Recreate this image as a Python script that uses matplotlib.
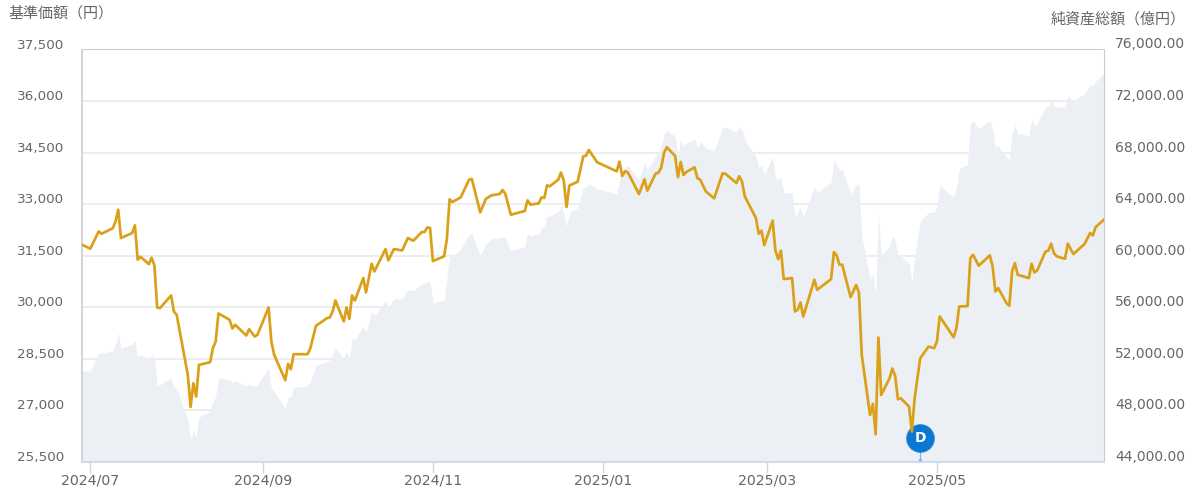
import numpy as np
import pandas as pd
import matplotlib
matplotlib.use("Agg")
import matplotlib.pyplot as plt
from matplotlib.transforms import ScaledTranslation

plt.rcParams['font.family'] = ['DejaVu Sans', 'Noto Sans CJK JP']

dates = [
    '2024-06-28',
    '2024-07-01', '2024-07-04', '2024-07-05', '2024-07-09', '2024-07-10', '2024-07-11', '2024-07-12', '2024-07-16', '2024-07-17',
    '2024-07-18', '2024-07-19', '2024-07-22', '2024-07-23', '2024-07-24', '2024-07-25', '2024-07-26', '2024-07-30', '2024-07-31',
    '2024-08-01', '2024-08-05', '2024-08-06', '2024-08-07', '2024-08-08', '2024-08-09', '2024-08-13', '2024-08-14', '2024-08-15',
    '2024-08-16', '2024-08-20', '2024-08-21', '2024-08-22', '2024-08-26', '2024-08-27', '2024-08-29', '2024-08-30',
    '2024-09-03', '2024-09-04', '2024-09-05', '2024-09-09', '2024-09-10', '2024-09-11', '2024-09-12', '2024-09-17', '2024-09-18',
    '2024-09-20', '2024-09-24', '2024-09-25', '2024-09-26', '2024-09-27', '2024-09-30',
    '2024-10-01', '2024-10-02', '2024-10-03', '2024-10-04', '2024-10-07', '2024-10-08', '2024-10-10', '2024-10-11', '2024-10-15',
    '2024-10-16', '2024-10-18', '2024-10-21', '2024-10-23', '2024-10-25', '2024-10-28', '2024-10-29', '2024-10-30', '2024-10-31',
    '2024-11-01', '2024-11-05', '2024-11-06', '2024-11-07', '2024-11-08', '2024-11-11', '2024-11-14', '2024-11-15', '2024-11-18',
    '2024-11-20', '2024-11-22', '2024-11-25', '2024-11-26', '2024-11-27', '2024-11-29',
    '2024-12-04', '2024-12-05', '2024-12-06', '2024-12-09', '2024-12-10', '2024-12-11', '2024-12-12', '2024-12-13', '2024-12-16',
    '2024-12-17', '2024-12-18', '2024-12-19', '2024-12-20', '2024-12-23', '2024-12-25', '2024-12-26', '2024-12-27', '2024-12-30',
    '2025-01-06', '2025-01-07', '2025-01-08', '2025-01-09', '2025-01-10', '2025-01-14', '2025-01-16', '2025-01-17', '2025-01-20',
    '2025-01-21', '2025-01-22', '2025-01-23', '2025-01-24', '2025-01-27', '2025-01-28', '2025-01-29', '2025-01-30', '2025-01-31',
    '2025-02-03', '2025-02-04', '2025-02-05', '2025-02-07', '2025-02-10', '2025-02-13', '2025-02-14', '2025-02-18', '2025-02-19',
    '2025-02-20', '2025-02-21', '2025-02-25', '2025-02-26', '2025-02-27', '2025-02-28',
    '2025-03-03', '2025-03-04', '2025-03-05', '2025-03-06', '2025-03-07', '2025-03-10', '2025-03-11', '2025-03-12', '2025-03-13',
    '2025-03-14', '2025-03-18', '2025-03-19', '2025-03-24', '2025-03-25', '2025-03-26', '2025-03-27', '2025-03-28', '2025-03-31',
    '2025-04-02', '2025-04-03', '2025-04-04', '2025-04-07', '2025-04-08', '2025-04-09', '2025-04-10', '2025-04-11', '2025-04-14',
    '2025-04-15', '2025-04-16', '2025-04-17', '2025-04-18', '2025-04-21', '2025-04-22', '2025-04-23', '2025-04-25', '2025-04-28', '2025-04-30',
    '2025-05-01', '2025-05-02', '2025-05-07', '2025-05-08', '2025-05-09', '2025-05-12', '2025-05-13', '2025-05-14', '2025-05-16',
    '2025-05-20', '2025-05-21', '2025-05-22', '2025-05-23', '2025-05-26', '2025-05-27', '2025-05-28', '2025-05-29', '2025-05-30',
    '2025-06-03', '2025-06-04', '2025-06-05', '2025-06-06', '2025-06-09', '2025-06-10', '2025-06-11', '2025-06-12', '2025-06-13',
    '2025-06-16', '2025-06-17', '2025-06-19', '2025-06-23', '2025-06-25', '2025-06-26', '2025-06-27', '2025-06-30',
]

# 基準価額
price = [
    31821,
    31704, 32209, 32141, 32296, 32481, 32840, 32015, 32160, 32384,
    31384, 31471, 31257, 31442, 31219, 29995, 29976, 30345, 29879,
    29782, 28034, 27102, 27791, 27403, 28325, 28403, 28811, 29005,
    29821, 29636, 29384, 29490, 29180, 29364, 29151, 29199,
    29995, 29005, 28617, 27879, 28354, 28199, 28636, 28636, 28811,
    29461, 29685, 29704, 29879, 30199, 29587,
    29995, 29665, 30345, 30199, 30850, 30432, 31267, 31044, 31694,
    31364, 31694, 31655, 32015, 31937, 32190, 32190, 32325, 32306,
    31345, 31481, 31966, 33141, 33063, 33199, 33714, 33733, 32762,
    33151, 33257, 33296, 33413, 33306, 32694,
    32801, 33112, 32986, 33024, 33199, 33180, 33549, 33520, 33714,
    33918, 33685, 32918, 33539, 33656, 34393, 34413, 34578, 34219,
    33957, 34238, 33821, 33957, 33927, 33296, 33724, 33393, 33889,
    33918, 34063, 34491, 34656, 34403, 33782, 34228, 33850, 33937,
    34073, 33753, 33714, 33374, 33170, 33889, 33889, 33617, 33811,
    33665, 33228, 32597, 32141, 32228, 31811,
    32520, 31655, 31403, 31646, 30821, 30850, 29879, 29927, 30141,
    29733, 30801, 30510, 30821, 31607, 31510, 31238, 31238, 30296,
    30646, 30432, 28617, 26869, 27189, 26306, 29121, 27451, 27937,
    28219, 28005, 27325, 27354, 27112, 26384, 27354, 28520, 28859, 28811,
    29005, 29733, 29131, 29393, 30024, 30034, 31432, 31529, 31209,
    31510, 31190, 30461, 30558, 30121, 30044, 31044, 31287, 30947,
    30850, 31267, 31015, 31073, 31626, 31646, 31850, 31578, 31481,
    31413, 31850, 31549, 31840, 32160, 32092, 32335, 32549,
]

# 純資産総額
nav = [
    51094,
    51016, 52440, 52440, 52621, 53087, 54045, 52828, 53139, 53476,
    52104, 52311, 52052, 52311, 51974, 49981, 49981, 50550, 49851,
    49722, 47262, 45761, 46434, 45916, 47469, 47909, 48686, 49074,
    50498, 50369, 50162, 50317, 49851, 50058, 49851, 49981,
    51275, 49644, 49463, 48168, 49023, 49074, 49799, 49903, 50239,
    51456, 51793, 51922, 52311, 52828, 51974,
    52570, 52052, 53605, 53476, 54563, 53994, 55676, 55340, 56505,
    56013, 56660, 56634, 57359, 57282, 57825, 57825, 58006, 57955,
    56324, 56557, 58136, 60000, 60052, 60466, 61683, 61709, 60026,
    60932, 61295, 61372, 61502, 61372, 60388,
    60725, 61709, 61553, 61709, 62149, 62278, 63055, 63055, 63443,
    63884, 63314, 62227, 63366, 63702, 65256, 65333, 65592, 65178,
    64816, 65773, 66550, 66939, 66990, 65903, 67197, 66680, 67715,
    67974, 68492, 69398, 69709, 69269, 67715, 69062, 68492, 68751,
    69062, 68362, 68880, 68362, 68104, 69968, 69994, 69605, 69994,
    69735, 69010, 67715, 66809, 67068, 66291,
    67663, 66032, 65903, 66110, 64867, 64919, 63003, 63314, 63780,
    63003, 65333, 64919, 65696, 67379, 67068, 66680, 66680, 64790,
    65515, 65566, 61502, 58136, 58602, 56893, 63184, 60000, 60725,
    61502, 61243, 60000, 59948, 59430, 57929, 59948, 62667, 63366, 63366,
    63832, 65437, 64557, 65256, 66731, 67068, 70175, 70485, 69838,
    70511, 69786, 68362, 68544, 67663, 67456, 69528, 70149, 69476,
    69320, 70563, 70123, 70252, 71547, 71599, 72246, 71651, 71547,
    71521, 72427, 72039, 72557, 73282, 73152, 73540, 74136,
]

price_ticks = [25500, 27000, 28500, 30000, 31500, 33000, 34500, 36000, 37500]
nav_ticks = [44000, 48000, 52000, 56000, 60000, 64000, 68000, 72000, 76000]
month_ticks = ['2024-07-01', '2024-09-01', '2024-11-01', '2025-01-01', '2025-03-01', '2025-05-01']
month_labels = ['2024/07', '2024/09', '2024/11', '2025/01', '2025/03', '2025/05']
flag_date = '2025-04-25'
flag_y = 26200

x = pd.to_datetime(dates)
W, H = 1188, 490
TEXT = '#666666'

fig = plt.figure(figsize=(W / 100, H / 100), dpi=100, facecolor='white')
ax_nav = fig.add_axes([82 / W, (H - 462) / H, 1022 / W, 412.5 / H])
ax = ax_nav.twinx()

# tick labels sit a bit above their gridline
nudge = ScaledTranslation(0, -2 / 100, fig.dpi_scale_trans)

# area and grid on the lower axes, line on the upper one
ax_nav.fill_between(x, nav, 44000, color='#ECEFF4', lw=0, zorder=2)
ax_nav.set_ylim(44000, 76000)
ax_nav.set_yticks(nav_ticks)
ax_nav.set_yticklabels([f'{v:,.2f}' for v in nav_ticks])
ax_nav.yaxis.tick_right()
ax_nav.grid(axis='y', color='#EAEAEA', lw=1.2, zorder=1)
ax_nav.set_axisbelow(True)
ax_nav.tick_params(axis='y', length=0, pad=8, labelsize=10, labelcolor=TEXT)
for lab in ax_nav.get_yticklabels():
    lab.set_va('bottom')
    lab.set_transform(lab.get_transform() + nudge)

ax.vlines(pd.Timestamp(flag_date), 25500, flag_y, color='#7CB5EC', lw=0.8, zorder=2)
ax.plot([pd.Timestamp(flag_date)], [25560], 'o', ms=2.5, mfc='#7CB5EC', mec='none', zorder=2)
ax.plot([pd.Timestamp(flag_date)], [flag_y], 'o', ms=20, mfc='#0A78D2', mec='#2F8FDC', mew=0.6, zorder=3)
ax.text(pd.Timestamp(flag_date), flag_y, 'D', color='white', fontsize=10, fontweight='bold',
        ha='center', va='center', zorder=4)
ax.plot(x, price, color='#DAA017', lw=1.95, solid_joinstyle='round', zorder=5)

ax.set_ylim(25500, 37500)
ax.set_yticks(price_ticks)
ax.set_yticklabels([f'{v:,}' for v in price_ticks])
ax.yaxis.tick_left()
ax.tick_params(axis='y', length=0, pad=13, labelsize=9.7, labelcolor=TEXT)
for lab in ax.get_yticklabels():
    lab.set_va('bottom')
    lab.set_transform(lab.get_transform() + nudge)

ax.set_xlim(pd.Timestamp('2024-06-28'), pd.Timestamp('2025-06-30'))
ax_nav.set_xticks(pd.to_datetime(month_ticks))
ax_nav.set_xticklabels(month_labels)
ax_nav.tick_params(axis='x', length=8, width=1, color='#CCD6EB', pad=0.5, labelsize=10.2, labelcolor=TEXT)

for a in (ax_nav, ax):
    for s in a.spines.values():
        s.set_visible(False)
for side, col, lw in [('left', '#CCCCCC', 1.2), ('top', '#CCCCCC', 0.8), ('right', '#CCCCCC', 0.8), ('bottom', '#CCD6EB', 1.2)]:
    ax.spines[side].set_visible(True)
    ax.spines[side].set_color(col)
    ax.spines[side].set_linewidth(lw)

fig.text(8 / W, 1 - 13.5 / H, '基準価額（円）', color=TEXT, fontsize=10.8, va='center', ha='left',
         family=['Noto Sans CJK JP', 'DejaVu Sans'])
fig.text(1051 / W, 1 - 19 / H, '純資産総額（億円）', color=TEXT, fontsize=10.8, va='center', ha='left',
         family=['Noto Sans CJK JP', 'DejaVu Sans'])

fig.savefig('out.png', dpi=100)
